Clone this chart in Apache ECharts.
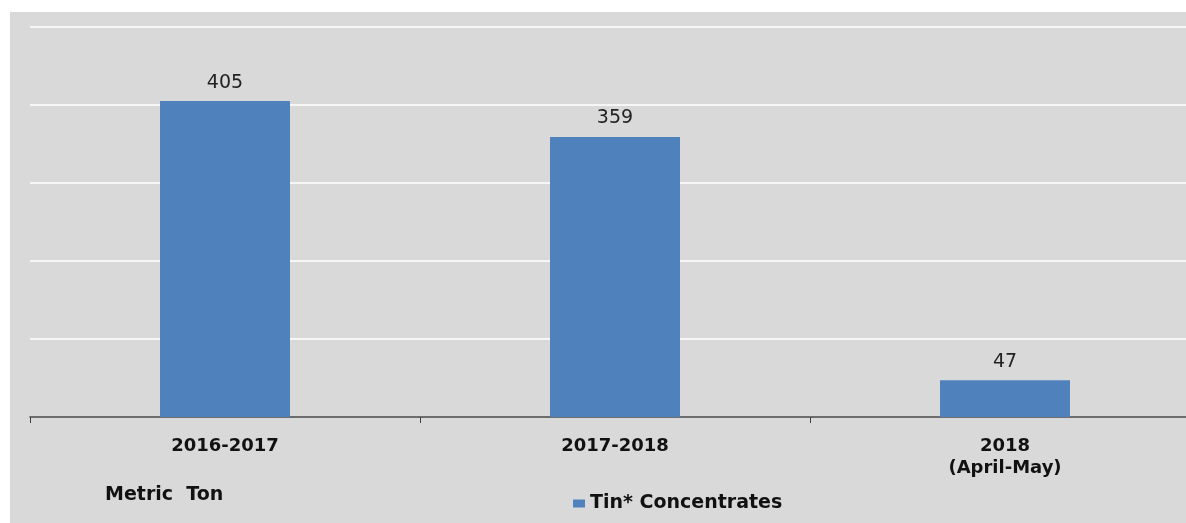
<!DOCTYPE html>
<html><head><meta charset="utf-8">
<script src="https://cdn.jsdelivr.net/npm/echarts@6/dist/echarts.min.js"></script>
<style>html,body{margin:0;padding:0;background:#fff;overflow:hidden}#c{width:1200px;height:523px}</style>
</head><body><div id="c"></div>
<script>
const categories = ['2016-2017', '2017-2018', '2018\n(April-May)'];
const values = [405, 359, 47];
const seriesName = 'Tin* Concentrates';
const unitLabel = 'Metric  Ton';

const FONT = '"DejaVu Sans", "Liberation Sans", Arial';
const chart = echarts.init(document.getElementById('c'), null, {renderer: 'canvas'});
chart.setOption({
  backgroundColor: '#ffffff',
  animation: false,
  graphic: [
    {type: 'rect', z: -10, silent: true, shape: {x: 10, y: 12, width: 1190, height: 511}, style: {fill: '#d9d9d9'}},
    {type: 'text', left: 105, top: 486, style: {text: unitLabel, font: 'bold 19px ' + FONT, fill: '#111'}}
  ],
  legend: {
    show: true, left: 568, top: 489, itemWidth: 12, itemHeight: 8, icon: 'rect', itemGap: 6,
    textStyle: {fontFamily: FONT, fontWeight: 'bold', fontSize: 19, color: '#111'}
  },
  grid: {left: 30, right: 0, top: 27, bottom: 106, containLabel: false},
  xAxis: {
    type: 'category', data: categories,
    axisLine: {lineStyle: {color: '#404040', width: 1.5}},
    axisTick: {show: true, length: 6, lineStyle: {color: '#404040'}},
    axisLabel: {margin: 18, fontFamily: FONT, fontWeight: 'bold', fontSize: 18, color: '#111', lineHeight: 22}
  },
  yAxis: {
    type: 'value', min: 0, max: 500, interval: 100,
    axisLine: {show: false}, axisTick: {show: false}, axisLabel: {show: false},
    splitLine: {lineStyle: {color: '#ffffff', width: 1.5}}
  },
  series: [{
    name: seriesName, type: 'bar', data: values, barWidth: 130,
    itemStyle: {color: '#4f81bd'},
    label: {show: true, position: 'top', distance: 9, fontFamily: FONT, fontSize: 19, color: '#222'}
  }]
});
</script></body></html>
